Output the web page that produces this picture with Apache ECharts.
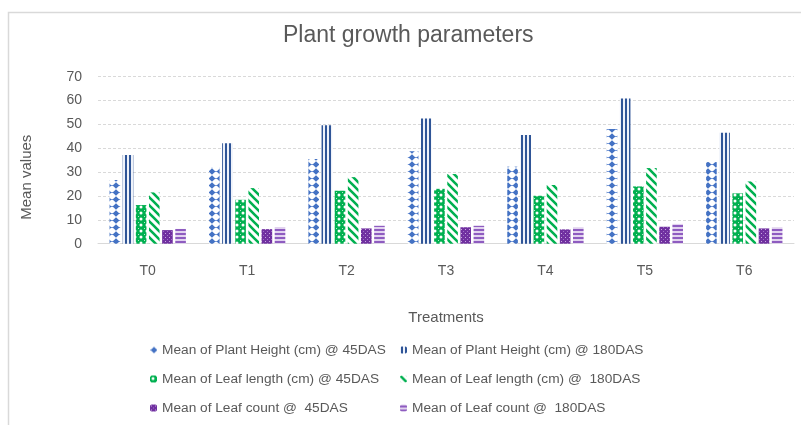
<!DOCTYPE html>
<html>
<head>
<meta charset="utf-8">
<script src="https://cdn.jsdelivr.net/npm/echarts@6/dist/echarts.min.js"></script>
<style>html,body{margin:0;padding:0;background:#fff;}#c{width:801px;height:425px;}</style>
</head>
<body>
<div id="c"></div>
<script>
var categories = ['T0', 'T1', 'T2', 'T3', 'T4', 'T5', 'T6'];
var seriesNames = [
  'Mean of Plant Height (cm) @ 45DAS',
  'Mean of Plant Height (cm) @ 180DAS',
  'Mean of Leaf length (cm) @ 45DAS',
  'Mean of Leaf length (cm) @  180DAS',
  'Mean of Leaf count @  45DAS',
  'Mean of Leaf count @  180DAS'
];
var plantHeight45 = [26.7, 31.9, 35.5, 38.8, 32.3, 48.1, 34.2];
var plantHeight180 = [37.2, 42.1, 49.7, 52.5, 45.6, 60.9, 46.5];
var leafLength45 = [16.2, 18.4, 22.2, 23.0, 20.1, 24.0, 21.1];
var leafLength180 = [21.5, 23.3, 27.9, 29.2, 24.6, 31.7, 26.1];
var leafCount45 = [5.7, 6.1, 6.4, 6.9, 6.0, 7.1, 6.4];
var leafCount180 = [6.2, 7.0, 7.5, 7.5, 6.9, 8.3, 6.9];
var yTicks = [0, 10, 20, 30, 40, 50, 60, 70];

function makePattern(w, h, draw) {
  var cv = document.createElement('canvas');
  cv.width = w; cv.height = h;
  var ctx = cv.getContext('2d');
  draw(ctx, w, h);
  return { image: cv, repeat: 'repeat' };
}
var pDiamond = makePattern(8, 7, function (c, w, h) {
  c.fillStyle = '#fff'; c.fillRect(0, 0, w, h);
  c.fillStyle = '#7f9fd8'; c.fillRect(0, 3, w, 1);
  c.fillStyle = '#4472C4';
  c.beginPath(); c.moveTo(4, 0.2); c.lineTo(7.4, 3.5); c.lineTo(4, 6.8); c.lineTo(0.6, 3.5); c.closePath(); c.fill();
});
var pVert = makePattern(4, 4, function (c, w, h) {
  c.fillStyle = '#eef2fa'; c.fillRect(0, 0, w, h);
  c.fillStyle = '#2F5597'; c.fillRect(1, 0, 2, h);
});
var pSphere = makePattern(6, 6, function (c, w, h) {
  c.fillStyle = '#00B050'; c.fillRect(0, 0, w, h);
  c.fillStyle = '#ffffff';
  c.beginPath(); c.arc(3, 3, 1.5, 0, Math.PI * 2); c.fill();
  c.fillStyle = '#b8e8cc';
  c.fillRect(0, 0, 1, 1);
});
var pDiag = makePattern(8, 8, function (c, w, h) {
  c.fillStyle = '#fff'; c.fillRect(0, 0, w, h);
  c.strokeStyle = '#00B050'; c.lineWidth = 2.6;
  c.beginPath();
  c.moveTo(-2, -2); c.lineTo(10, 10);
  c.moveTo(-10, -2); c.lineTo(2, 10);
  c.moveTo(6, -2); c.lineTo(18, 10);
  c.stroke();
});
var pDots = makePattern(4, 4, function (c, w, h) {
  c.fillStyle = '#7030A0'; c.fillRect(0, 0, w, h);
  c.fillStyle = '#c9a8e0'; c.fillRect(1, 1, 1, 1);
  c.fillStyle = '#a070c8'; c.fillRect(3, 3, 1, 1);
});
var pHoriz = makePattern(4, 4, function (c, w, h) {
  c.fillStyle = '#e2d3ef'; c.fillRect(0, 0, w, h);
  c.fillStyle = '#8E5CC0'; c.fillRect(0, 1, w, 2);
});

var datasets = [plantHeight45, plantHeight180, leafLength45, leafLength180, leafCount45, leafCount180];
var fills = [pDiamond, pVert, pSphere, pDiag, pDots, pHoriz];
var FONT = 'Liberation Sans';
var TXT = '#595959';

var series = datasets.map(function (d, i) {
  return {
    name: seriesNames[i],
    type: 'bar',
    data: d,
    barWidth: 10.6,
    barGap: '24%',
    itemStyle: { color: fills[i] },
    emphasis: { disabled: true }
  };
});

var legendBase = {
  orient: 'vertical',
  itemWidth: 7,
  itemHeight: 7,
  itemGap: 13,
  padding: 0,
  height: 120,
  textStyle: { color: TXT, fontSize: 13.7, fontFamily: FONT, lineHeight: 16 },
  selectedMode: false
};

var chart = echarts.init(document.getElementById('c'), null, { renderer: 'canvas' });
chart.setOption({
  animation: false,
  backgroundColor: '#fff',
  textStyle: { fontFamily: FONT },
  title: {
    text: 'Plant growth parameters',
    left: 278,
    top: 19,
    textStyle: { color: TXT, fontSize: 23, fontWeight: 'normal', fontFamily: FONT }
  },
  graphic: [{
    type: 'rect',
    shape: { x: 8.5, y: 12.5, width: 900, height: 600 },
    style: { fill: 'none', stroke: '#D9D9D9', lineWidth: 1.5 },
    silent: true
  }],
  legend: [
    Object.assign({}, legendBase, { left: 150, top: 342, data: [seriesNames[0], seriesNames[2], seriesNames[4]] }),
    Object.assign({}, legendBase, { left: 400, top: 342, data: [seriesNames[1], seriesNames[3], seriesNames[5]] })
  ],
  grid: { left: 98, right: 7, top: 76.7, bottom: 181.3, containLabel: false },
  xAxis: {
    type: 'category',
    data: categories,
    name: 'Treatments',
    nameLocation: 'middle',
    nameGap: 67,
    nameTextStyle: { color: TXT, fontSize: 15, fontFamily: FONT },
    axisLine: { lineStyle: { color: '#D9D9D9', width: 1 } },
    axisTick: { show: false },
    axisLabel: { color: TXT, fontSize: 14, fontFamily: FONT, margin: 20 }
  },
  yAxis: {
    type: 'value',
    min: yTicks[0],
    max: yTicks[yTicks.length - 1],
    interval: 10,
    name: 'Mean values',
    nameLocation: 'middle',
    nameGap: 64,
    nameTextStyle: { color: TXT, fontSize: 15, fontFamily: FONT, padding: [0, 34, 0, 0] },
    axisLine: { show: false },
    axisTick: { show: false },
    axisLabel: { color: TXT, fontSize: 14, fontFamily: FONT, margin: 16 },
    splitLine: { lineStyle: { color: '#D9D9D9', type: [3, 2], width: 1 } }
  },
  series: series
});
</script>
</body>
</html>
